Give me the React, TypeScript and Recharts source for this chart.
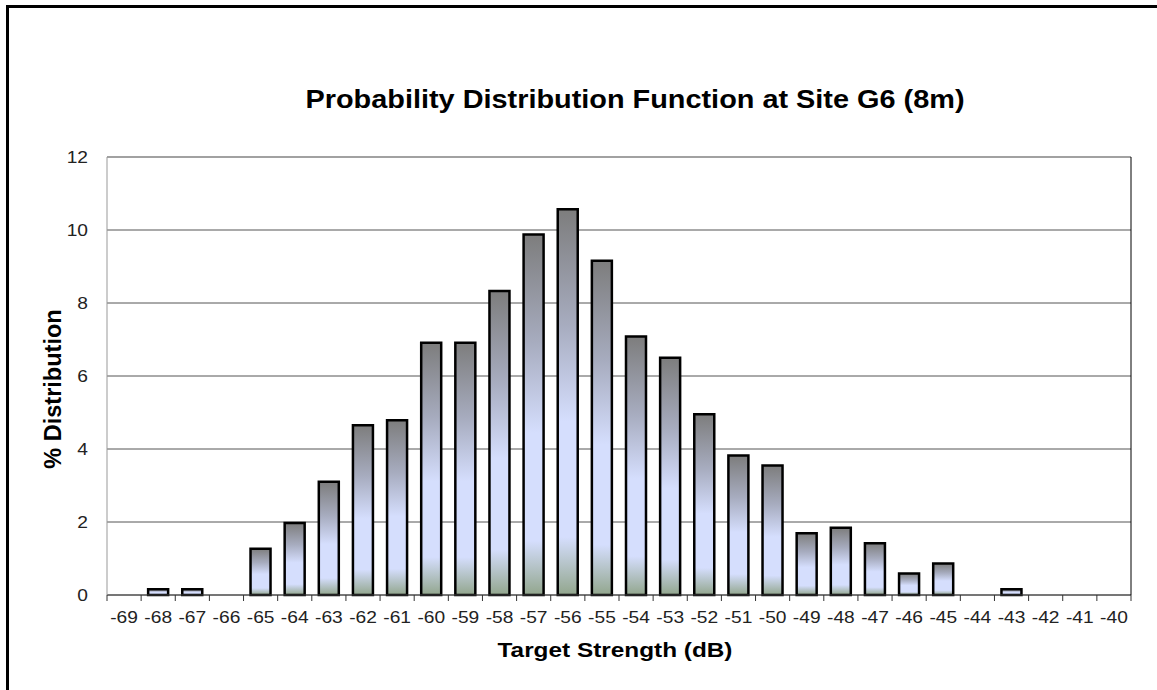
import React from 'react'
import { BarChart, Bar, XAxis, YAxis, CartesianGrid, ReferenceLine, Label } from 'recharts'

// target strength bins (dB)
const categories = [
  '-69', '-68', '-67', '-66', '-65', '-64', '-63', '-62', '-61', '-60',
  '-59', '-58', '-57', '-56', '-55', '-54', '-53', '-52', '-51', '-50',
  '-49', '-48', '-47', '-46', '-45', '-44', '-43', '-42', '-41', '-40'
]

// % of detections falling in each bin
const distribution = [
  0, 0.16, 0.16, 0, 1.27, 1.97, 3.1, 4.65, 4.79, 6.91,
  6.91, 8.33, 9.88, 10.57, 9.16, 7.08, 6.5, 4.95, 3.82, 3.55,
  1.69, 1.84, 1.42, 0.59, 0.86, 0, 0.16, 0, 0, 0
]

const yTicks = [0, 2, 4, 6, 8, 10, 12]

const chartData = categories.map((ts, i) => ({ ts, pct: distribution[i] }))

const FONT = '"Liberation Sans", Arial, Helvetica, sans-serif'
const STRETCH = 1.13

function XTick(props: any) {
  const { x, y, payload, index } = props
  const half = payload?.offset ?? 17
  const last = index === categories.length - 1
  return (
    <g>
      <line x1={x - half} x2={x - half} y1={y} y2={y + 6} stroke="#333" />
      {last && <line x1={x + half} x2={x + half} y1={y} y2={y + 6} stroke="#333" />}
      <text
        transform={`translate(${x},${y + 28}) scale(${STRETCH},1)`}
        textAnchor="middle"
        fontSize={17}
        fontFamily={FONT}
        fill="#222"
      >
        {payload.value}
      </text>
    </g>
  )
}

function YTick(props: any) {
  const { x, y, payload } = props
  return (
    <text
      transform={`translate(${x},${y}) scale(${STRETCH},1)`}
      textAnchor="end"
      dy="0.36em"
      fontSize={17}
      fontFamily={FONT}
      fill="#222"
    >
      {payload.value}
    </text>
  )
}

export default function App() {
  return (
    <div style={{ position: 'fixed', left: 0, top: 0, width: 1157, height: 690, overflow: 'hidden', background: '#fff' }}>
      <div style={{ position: 'absolute', left: 6, top: 5, width: 1200, height: 800, border: '3px solid #000' }} />
      <div
        style={{
          position: 'absolute',
          left: 235,
          top: 86,
          width: 800,
          textAlign: 'center',
          fontFamily: FONT,
          fontWeight: 'bold',
          fontSize: 26,
          lineHeight: '26px',
          color: '#000',
          transform: 'scaleX(1.11)'
        }}
      >
        Probability Distribution Function at Site G6 (8m)
      </div>
      <div style={{ position: 'absolute', left: 0, top: 0 }}>
        <BarChart
          width={1157}
          height={690}
          data={chartData}
          margin={{ top: 157, right: 16, bottom: 55, left: 47 }}
          barCategoryGap="20.5%"
        >
          <defs>
            <linearGradient id="barFill" x1="0" y1="0" x2="0" y2="1">
              <stop offset="0%" stopColor="#7d7d7d" />
              <stop offset="30%" stopColor="#a7acbf" />
              <stop offset="55%" stopColor="#d5defd" />
              <stop offset="85%" stopColor="#d5defd" />
              <stop offset="100%" stopColor="#92a68d" />
            </linearGradient>
          </defs>
          <CartesianGrid yAxisId="left" vertical={false} stroke="#555" />
          <XAxis
            dataKey="ts"
            interval={0}
            height={40}
            tickSize={0}
            tickMargin={0}
            tickLine={false}
            axisLine={{ stroke: '#444' }}
            tick={<XTick />}
          >
            <Label
              content={() => (
                <text
                  transform={`translate(615,657) scale(1.16,1)`}
                  textAnchor="middle"
                  fontSize={21}
                  fontWeight="bold"
                  fontFamily={FONT}
                  fill="#000"
                >
                  Target Strength (dB)
                </text>
              )}
            />
          </XAxis>
          <YAxis
            yAxisId="left"
            domain={[0, 12]}
            ticks={yTicks}
            width={60}
            tickSize={0}
            tickMargin={19}
            tickLine={false}
            axisLine={{ stroke: '#999' }}
            tick={YTick}
          >
            <Label
              content={() => (
                <text
                  transform="translate(61,389) rotate(-90)"
                  textAnchor="middle"
                  fontSize={23.5}
                  fontWeight="bold"
                  fontFamily={FONT}
                  fill="#000"
                >
                  % Distribution
                </text>
              )}
            />
          </YAxis>
          <YAxis
            yAxisId="right"
            orientation="right"
            domain={[0, 12]}
            ticks={yTicks}
            width={10}
            tickSize={5}
            axisLine={{ stroke: '#000' }}
            tickLine={{ stroke: '#000' }}
            tick={() => <g />}
          />
          <ReferenceLine yAxisId="left" y={12} stroke="#999" />
          <Bar
            yAxisId="left"
            dataKey="pct"
            fill="url(#barFill)"
            stroke="#000"
            strokeWidth={2.5}
            isAnimationActive={false}
          />
        </BarChart>
      </div>
    </div>
  )
}
